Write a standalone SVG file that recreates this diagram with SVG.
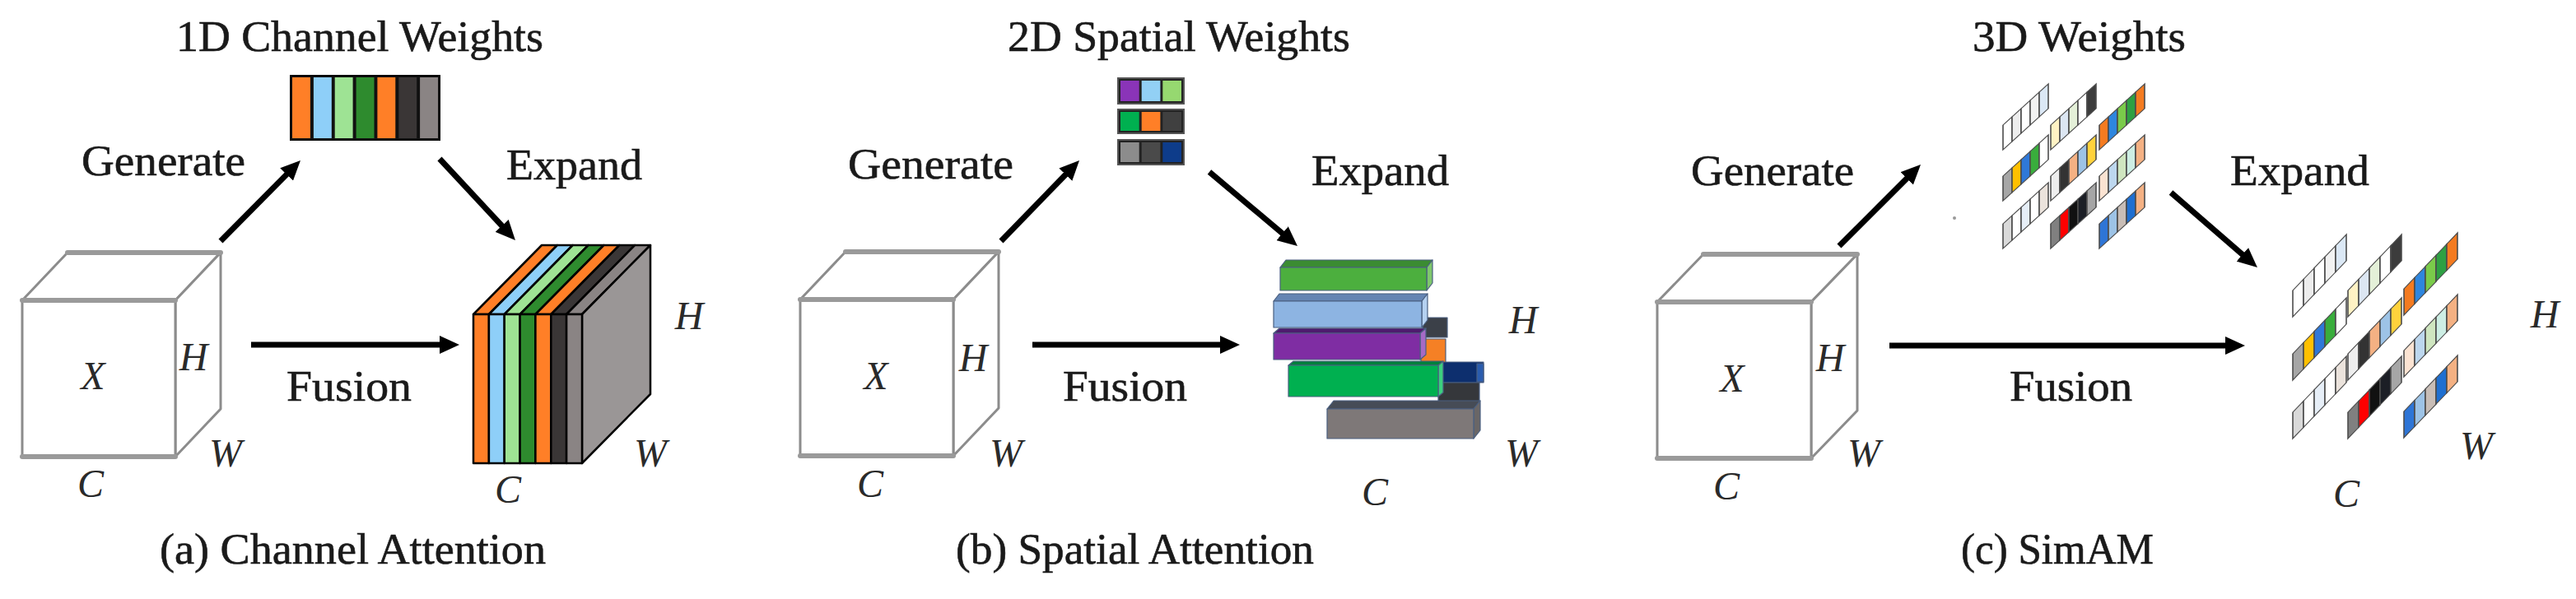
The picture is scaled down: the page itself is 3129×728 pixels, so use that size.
<svg xmlns="http://www.w3.org/2000/svg" width="3129" height="728" viewBox="0 0 3129 728">
<defs>
<marker id="ah" markerUnits="userSpaceOnUse" markerWidth="24" markerHeight="22" viewBox="0 0 24 22" refX="7" refY="11" orient="auto"><path d="M0,0 L24,11 L0,22 z" fill="#000"/></marker>
</defs>
<style>
.t{font-family:"Liberation Serif","Times New Roman",serif;font-size:52px;fill:#1a1a1a;stroke:#1a1a1a;stroke-width:0.6}
.cap{font-size:52px}
.i{font-family:"Liberation Serif","Times New Roman",serif;font-style:italic;font-size:48px;fill:#2a2a2a;text-anchor:middle}
.cube{fill:#fff;stroke:#8c8c8c;stroke-width:3;stroke-linejoin:round}
.hz{stroke:#9a9a9a;stroke-width:6;stroke-linecap:round}
.arr{stroke:#000;stroke-width:7;fill:none;marker-end:url(#ah)}
.cell{stroke:#4d4d4d;stroke-width:1.6}
.k{stroke:#000;stroke-width:2.5;stroke-linejoin:round}
.bar{stroke:#4a5f80;stroke-width:1.2;stroke-linejoin:round}
</style>
<rect width="3129" height="728" fill="#fff"/>

<!-- ===== Panel (a) ===== -->
<g id="a-title"><text class="t" x="214" y="62" textLength="446" lengthAdjust="spacingAndGlyphs">1D Channel Weights</text></g>
<g id="a-weights">
<rect x="353" y="92" width="181" height="78" fill="#111" stroke="#000" stroke-width="2"/>
<rect x="355" y="94" width="21.9" height="74" fill="#ff7f27"/>
<rect x="380.9" y="94" width="21.9" height="74" fill="#8ecff8"/>
<rect x="406.7" y="94" width="21.9" height="74" fill="#9ee394"/>
<rect x="432.6" y="94" width="21.9" height="74" fill="#2e8b2e"/>
<rect x="458.4" y="94" width="21.9" height="74" fill="#ff7f27"/>
<rect x="484.3" y="94" width="21.9" height="74" fill="#3a3636"/>
<rect x="510.1" y="94" width="21.9" height="74" fill="#8a8484"/>
</g>
<g id="a-input">
<polygon class="cube" points="27,365 82,307 268,307 213,365"/>
<polygon class="cube" points="213,365 268,307 268,497 213,555"/>
<rect class="cube" x="27" y="365" width="186" height="190"/>
<line class="hz" x1="27" y1="365" x2="213" y2="365"/>
<line class="hz" x1="27" y1="555" x2="213" y2="555"/>
<line class="hz" x1="82" y1="307" x2="268" y2="307"/>
<text class="i" x="113" y="473">X</text>
<text class="i" x="235" y="450">H</text>
<text class="i" x="274" y="567">W</text>
<text class="i" x="110" y="604">C</text>
</g>
<g id="a-output">
<polygon class="k" fill="#ff7f27" points="575,382 658,298 676.9,298 593.9,382"/>
<polygon class="k" fill="#8ecff8" points="593.9,382 676.9,298 695.7,298 612.7,382"/>
<polygon class="k" fill="#9ee394" points="612.7,382 695.7,298 714.6,298 631.6,382"/>
<polygon class="k" fill="#2e8b2e" points="631.6,382 714.6,298 733.4,298 650.4,382"/>
<polygon class="k" fill="#ff7f27" points="650.4,382 733.4,298 752.3,298 669.3,382"/>
<polygon class="k" fill="#3a3636" points="669.3,382 752.3,298 771.1,298 688.1,382"/>
<polygon class="k" fill="#8a8484" points="688.1,382 771.1,298 790,298 707,382"/>
<polygon class="k" fill="#9a9696" points="707,382 790,298 790,479 707,563"/>
<rect class="k" x="575" y="382" width="18.9" height="181" fill="#ff7f27"/>
<rect class="k" x="593.9" y="382" width="18.8" height="181" fill="#8ecff8"/>
<rect class="k" x="612.7" y="382" width="18.9" height="181" fill="#9ee394"/>
<rect class="k" x="631.6" y="382" width="18.8" height="181" fill="#2e8b2e"/>
<rect class="k" x="650.4" y="382" width="18.9" height="181" fill="#ff7f27"/>
<rect class="k" x="669.3" y="382" width="18.8" height="181" fill="#3a3636"/>
<rect class="k" x="688.1" y="382" width="18.9" height="181" fill="#8a8484"/>
<text class="i" x="837" y="400">H</text>
<text class="i" x="790" y="567">W</text>
<text class="i" x="617" y="611">C</text>
</g>
<g id="a-labels">
<text class="t" x="99" y="213" textLength="199" lengthAdjust="spacingAndGlyphs">Generate</text>
<text class="t" x="615" y="218" textLength="165" lengthAdjust="spacingAndGlyphs">Expand</text>
<text class="t" x="348" y="487" textLength="152" lengthAdjust="spacingAndGlyphs">Fusion</text>
<text class="t cap" x="194" y="685" textLength="469" lengthAdjust="spacingAndGlyphs">(a) Channel Attention</text>
</g>

<!-- ===== Panel (b) ===== -->
<g id="b-title"><text class="t" x="1224" y="62" textLength="416" lengthAdjust="spacingAndGlyphs">2D Spatial Weights</text></g>
<g id="b-weights">
<rect x="1358" y="95" width="80" height="31" fill="#222" stroke="#555" stroke-width="2"/>
<rect x="1361" y="98" width="22.7" height="25" fill="#8a34b8"/>
<rect x="1386.7" y="98" width="22.7" height="25" fill="#92d0f5"/>
<rect x="1412.3" y="98" width="22.7" height="25" fill="#96d870"/>
<rect x="1358" y="133" width="80" height="29" fill="#222" stroke="#555" stroke-width="2"/>
<rect x="1361" y="136" width="22.7" height="23" fill="#00b050"/>
<rect x="1386.7" y="136" width="22.7" height="23" fill="#ff7f27"/>
<rect x="1412.3" y="136" width="22.7" height="23" fill="#404040"/>
<rect x="1358" y="170" width="80" height="30" fill="#222" stroke="#555" stroke-width="2"/>
<rect x="1361" y="173" width="22.7" height="24" fill="#8c8c8c"/>
<rect x="1386.7" y="173" width="22.7" height="24" fill="#4a4a4a"/>
<rect x="1412.3" y="173" width="22.7" height="24" fill="#0e3c8a"/>
</g>
<g id="b-input">
<polygon class="cube" points="972,364 1027,306 1213,306 1158,364"/>
<polygon class="cube" points="1158,364 1213,306 1213,496 1158,554"/>
<rect class="cube" x="972" y="364" width="186" height="190"/>
<line class="hz" x1="972" y1="364" x2="1158" y2="364"/>
<line class="hz" x1="972" y1="554" x2="1158" y2="554"/>
<line class="hz" x1="1027" y1="306" x2="1213" y2="306"/>
<text class="i" x="1064" y="473">X</text>
<text class="i" x="1182" y="451">H</text>
<text class="i" x="1222" y="567">W</text>
<text class="i" x="1057" y="604">C</text>
</g>
<g id="b-output">
<rect class="bar" x="1728" y="386" width="30" height="24" fill="#3b4048"/>
<rect class="bar" x="1726" y="412" width="30" height="35" fill="#f58025"/>
<rect class="bar" x="1750" y="441" width="8" height="6" fill="#f9a55f"/>
<rect class="bar" x="1748" y="440" width="54" height="25" fill="#0d2f6e"/>
<rect class="bar" x="1794" y="442" width="8" height="22" fill="#2a5cae"/>
<rect class="bar" x="1747" y="465" width="50" height="26" fill="#35373b"/>
<polygon class="bar" fill="#3b8c32" points="1555,325 1562,316 1740,316 1733,325"/>
<polygon class="bar" fill="#7fc86c" points="1733,325 1740,316 1740,344 1733,353"/>
<rect class="bar" x="1555" y="325" width="178" height="28" fill="#4caf3e"/>
<polygon class="bar" fill="#6585b3" points="1547,366 1554,357 1734,357 1727,366"/>
<polygon class="bar" fill="#b5d1f1" points="1727,366 1734,357 1734,389 1727,398"/>
<rect class="bar" x="1547" y="366" width="180" height="32" fill="#8db4e2"/>
<polygon class="bar" fill="#4e1b6e" points="1547,405 1554,399 1732,399 1725,405"/>
<polygon class="bar" fill="#a56ac6" points="1725,405 1732,399 1732,431 1725,437"/>
<rect class="bar" x="1547" y="405" width="178" height="32" fill="#7f2da3"/>
<polygon class="bar" fill="#00803c" points="1565,444 1571,439 1753,439 1747,444"/>
<polygon class="bar" fill="#3ccf7e" points="1747,444 1753,439 1753,477 1747,482"/>
<rect class="bar" x="1565" y="444" width="182" height="38" fill="#00b050"/>
<polygon class="bar" fill="#464c56" points="1612,497 1620,487 1798,487 1790,497"/>
<polygon class="bar" fill="#6a6666" points="1790,497 1798,487 1798,523 1790,533"/>
<rect class="bar" x="1612" y="497" width="178" height="36" fill="#7e7878"/>
<text class="i" x="1850" y="405">H</text>
<text class="i" x="1848" y="567">W</text>
<text class="i" x="1670" y="614">C</text>
</g>
<g id="b-labels">
<text class="t" x="1030" y="217" textLength="201" lengthAdjust="spacingAndGlyphs">Generate</text>
<text class="t" x="1593" y="225" textLength="167" lengthAdjust="spacingAndGlyphs">Expand</text>
<text class="t" x="1291" y="487" textLength="151" lengthAdjust="spacingAndGlyphs">Fusion</text>
<text class="t cap" x="1161" y="685" textLength="435" lengthAdjust="spacingAndGlyphs">(b) Spatial Attention</text>
</g>

<!-- ===== Panel (c) ===== -->
<g id="c-title"><text class="t" x="2396" y="62" textLength="259" lengthAdjust="spacingAndGlyphs">3D Weights</text></g>
<g id="c-weights">
<g transform="matrix(1,-0.909,0,1,2433,182)">
<rect class="cell" x="0" y="-30" width="11" height="30" fill="#ffffff"/><rect class="cell" x="11" y="-30" width="11" height="30" fill="#ededed"/><rect class="cell" x="22" y="-30" width="11" height="30" fill="#ffffff"/><rect class="cell" x="33" y="-30" width="11" height="30" fill="#f2f2f2"/><rect class="cell" x="44" y="-30" width="11" height="30" fill="#dbe8f5"/>
</g>
<g transform="matrix(1,-0.909,0,1,2491,182)">
<rect class="cell" x="0" y="-30" width="11" height="30" fill="#fff2c4"/><rect class="cell" x="11" y="-30" width="11" height="30" fill="#dce6f2"/><rect class="cell" x="22" y="-30" width="11" height="30" fill="#e4f0d8"/><rect class="cell" x="33" y="-30" width="11" height="30" fill="#ffffff"/><rect class="cell" x="44" y="-30" width="11" height="30" fill="#3c3c3c"/>
</g>
<g transform="matrix(1,-0.909,0,1,2550,182)">
<rect class="cell" x="0" y="-30" width="11" height="30" fill="#f47b20"/><rect class="cell" x="11" y="-30" width="11" height="30" fill="#2e86de"/><rect class="cell" x="22" y="-30" width="11" height="30" fill="#7acb4a"/><rect class="cell" x="33" y="-30" width="11" height="30" fill="#2ea043"/><rect class="cell" x="44" y="-30" width="11" height="30" fill="#f47b20"/>
</g>
<g transform="matrix(1,-0.909,0,1,2433,244)">
<rect class="cell" x="0" y="-30" width="11" height="30" fill="#a6a6a6"/><rect class="cell" x="11" y="-30" width="11" height="30" fill="#ffc000"/><rect class="cell" x="22" y="-30" width="11" height="30" fill="#2f78d8"/><rect class="cell" x="33" y="-30" width="11" height="30" fill="#39ad3c"/><rect class="cell" x="44" y="-30" width="11" height="30" fill="#ffffff"/>
</g>
<g transform="matrix(1,-0.909,0,1,2491,244)">
<rect class="cell" x="0" y="-30" width="11" height="30" fill="#eeeeee"/><rect class="cell" x="11" y="-30" width="11" height="30" fill="#333333"/><rect class="cell" x="22" y="-30" width="11" height="30" fill="#f4b183"/><rect class="cell" x="33" y="-30" width="11" height="30" fill="#9dc3e6"/><rect class="cell" x="44" y="-30" width="11" height="30" fill="#ffd23c"/>
</g>
<g transform="matrix(1,-0.909,0,1,2550,244)">
<rect class="cell" x="0" y="-30" width="11" height="30" fill="#fbe3d2"/><rect class="cell" x="11" y="-30" width="11" height="30" fill="#bdd7ee"/><rect class="cell" x="22" y="-30" width="11" height="30" fill="#cfe6c0"/><rect class="cell" x="33" y="-30" width="11" height="30" fill="#cdeee4"/><rect class="cell" x="44" y="-30" width="11" height="30" fill="#f4b183"/>
</g>
<g transform="matrix(1,-0.909,0,1,2433,302)">
<rect class="cell" x="0" y="-30" width="11" height="30" fill="#d9d9d9"/><rect class="cell" x="11" y="-30" width="11" height="30" fill="#ffffff"/><rect class="cell" x="22" y="-30" width="11" height="30" fill="#e6eef7"/><rect class="cell" x="33" y="-30" width="11" height="30" fill="#ffffff"/><rect class="cell" x="44" y="-30" width="11" height="30" fill="#ebe3dc"/>
</g>
<g transform="matrix(1,-0.909,0,1,2491,302)">
<rect class="cell" x="0" y="-30" width="11" height="30" fill="#808080"/><rect class="cell" x="11" y="-30" width="11" height="30" fill="#ff0000"/><rect class="cell" x="22" y="-30" width="11" height="30" fill="#111111"/><rect class="cell" x="33" y="-30" width="11" height="30" fill="#1c1f26"/><rect class="cell" x="44" y="-30" width="11" height="30" fill="#a6a6a6"/>
</g>
<g transform="matrix(1,-0.909,0,1,2550,302)">
<rect class="cell" x="0" y="-30" width="11" height="30" fill="#2e75d6"/><rect class="cell" x="11" y="-30" width="11" height="30" fill="#9dc3e6"/><rect class="cell" x="22" y="-30" width="11" height="30" fill="#c8bdb6"/><rect class="cell" x="33" y="-30" width="11" height="30" fill="#1f6fd0"/><rect class="cell" x="44" y="-30" width="11" height="30" fill="#f4b183"/>
</g>
<circle cx="2374" cy="265" r="2" fill="#999"/>
</g>
<g id="c-input">
<polygon class="cube" points="2013,367 2069,309 2256,309 2200,367"/>
<polygon class="cube" points="2200,367 2256,309 2256,499 2200,557"/>
<rect class="cube" x="2013" y="367" width="187" height="190"/>
<line class="hz" x1="2013" y1="367" x2="2200" y2="367"/>
<line class="hz" x1="2013" y1="557" x2="2200" y2="557"/>
<line class="hz" x1="2069" y1="309" x2="2256" y2="309"/>
<text class="i" x="2104" y="476">X</text>
<text class="i" x="2223" y="451">H</text>
<text class="i" x="2264" y="567">W</text>
<text class="i" x="2097" y="607">C</text>
</g>
<g id="c-output">
<g transform="matrix(1,-1.046,0,1,2785,385)">
<rect class="cell" x="0" y="-32" width="13" height="32" fill="#ffffff"/><rect class="cell" x="13" y="-32" width="13" height="32" fill="#ededed"/><rect class="cell" x="26" y="-32" width="13" height="32" fill="#ffffff"/><rect class="cell" x="39" y="-32" width="13" height="32" fill="#f2f2f2"/><rect class="cell" x="52" y="-32" width="13" height="32" fill="#dbe8f5"/>
</g>
<g transform="matrix(1,-1.046,0,1,2852,385)">
<rect class="cell" x="0" y="-32" width="13" height="32" fill="#fff2c4"/><rect class="cell" x="13" y="-32" width="13" height="32" fill="#dce6f2"/><rect class="cell" x="26" y="-32" width="13" height="32" fill="#e4f0d8"/><rect class="cell" x="39" y="-32" width="13" height="32" fill="#ffffff"/><rect class="cell" x="52" y="-32" width="13" height="32" fill="#3c3c3c"/>
</g>
<g transform="matrix(1,-1.046,0,1,2920,383)">
<rect class="cell" x="0" y="-32" width="13" height="32" fill="#f47b20"/><rect class="cell" x="13" y="-32" width="13" height="32" fill="#2e86de"/><rect class="cell" x="26" y="-32" width="13" height="32" fill="#7acb4a"/><rect class="cell" x="39" y="-32" width="13" height="32" fill="#2ea043"/><rect class="cell" x="52" y="-32" width="13" height="32" fill="#f47b20"/>
</g>
<g transform="matrix(1,-1.046,0,1,2785,462)">
<rect class="cell" x="0" y="-32" width="13" height="32" fill="#a6a6a6"/><rect class="cell" x="13" y="-32" width="13" height="32" fill="#ffc000"/><rect class="cell" x="26" y="-32" width="13" height="32" fill="#2f78d8"/><rect class="cell" x="39" y="-32" width="13" height="32" fill="#39ad3c"/><rect class="cell" x="52" y="-32" width="13" height="32" fill="#ffffff"/>
</g>
<g transform="matrix(1,-1.046,0,1,2852,462)">
<rect class="cell" x="0" y="-32" width="13" height="32" fill="#eeeeee"/><rect class="cell" x="13" y="-32" width="13" height="32" fill="#333333"/><rect class="cell" x="26" y="-32" width="13" height="32" fill="#f4b183"/><rect class="cell" x="39" y="-32" width="13" height="32" fill="#9dc3e6"/><rect class="cell" x="52" y="-32" width="13" height="32" fill="#ffd23c"/>
</g>
<g transform="matrix(1,-1.046,0,1,2920,458)">
<rect class="cell" x="0" y="-32" width="13" height="32" fill="#fbe3d2"/><rect class="cell" x="13" y="-32" width="13" height="32" fill="#bdd7ee"/><rect class="cell" x="26" y="-32" width="13" height="32" fill="#cfe6c0"/><rect class="cell" x="39" y="-32" width="13" height="32" fill="#cdeee4"/><rect class="cell" x="52" y="-32" width="13" height="32" fill="#f4b183"/>
</g>
<g transform="matrix(1,-1.046,0,1,2785,533)">
<rect class="cell" x="0" y="-32" width="13" height="32" fill="#d9d9d9"/><rect class="cell" x="13" y="-32" width="13" height="32" fill="#ffffff"/><rect class="cell" x="26" y="-32" width="13" height="32" fill="#e6eef7"/><rect class="cell" x="39" y="-32" width="13" height="32" fill="#ffffff"/><rect class="cell" x="52" y="-32" width="13" height="32" fill="#ebe3dc"/>
</g>
<g transform="matrix(1,-1.046,0,1,2852,533)">
<rect class="cell" x="0" y="-32" width="13" height="32" fill="#808080"/><rect class="cell" x="13" y="-32" width="13" height="32" fill="#ff0000"/><rect class="cell" x="26" y="-32" width="13" height="32" fill="#111111"/><rect class="cell" x="39" y="-32" width="13" height="32" fill="#1c1f26"/><rect class="cell" x="52" y="-32" width="13" height="32" fill="#a6a6a6"/>
</g>
<g transform="matrix(1,-1.046,0,1,2920,532)">
<rect class="cell" x="0" y="-32" width="13" height="32" fill="#2e75d6"/><rect class="cell" x="13" y="-32" width="13" height="32" fill="#9dc3e6"/><rect class="cell" x="26" y="-32" width="13" height="32" fill="#c8bdb6"/><rect class="cell" x="39" y="-32" width="13" height="32" fill="#1f6fd0"/><rect class="cell" x="52" y="-32" width="13" height="32" fill="#f4b183"/>
</g>
<text class="i" x="3091" y="398">H</text>
<text class="i" x="3008" y="558">W</text>
<text class="i" x="2850" y="616">C</text>
</g>
<g id="c-labels">
<text class="t" x="2054" y="225" textLength="198" lengthAdjust="spacingAndGlyphs">Generate</text>
<text class="t" x="2709" y="225" textLength="169" lengthAdjust="spacingAndGlyphs">Expand</text>
<text class="t" x="2441" y="487" textLength="149" lengthAdjust="spacingAndGlyphs">Fusion</text>
<text class="t cap" x="2382" y="685" textLength="234" lengthAdjust="spacingAndGlyphs">(c) SimAM</text>
</g>

<!-- ===== Connectors ===== -->
<g id="connectors">
<line class="arr" x1="268" y1="293" x2="353" y2="207.1"/>
<line class="arr" x1="534" y1="193" x2="614.4" y2="279.5"/>
<line class="arr" x1="305" y1="419" x2="541" y2="419"/>
<line class="arr" x1="1216" y1="293" x2="1299.2" y2="207.2"/>
<line class="arr" x1="1469" y1="209" x2="1563" y2="288.1"/>
<line class="arr" x1="1254" y1="419" x2="1489" y2="419"/>
<line class="arr" x1="2234" y1="299" x2="2321" y2="212"/>
<line class="arr" x1="2637" y1="234" x2="2729.1" y2="313.9"/>
<line class="arr" x1="2295" y1="420" x2="2710" y2="420"/>
</g>
</svg>
